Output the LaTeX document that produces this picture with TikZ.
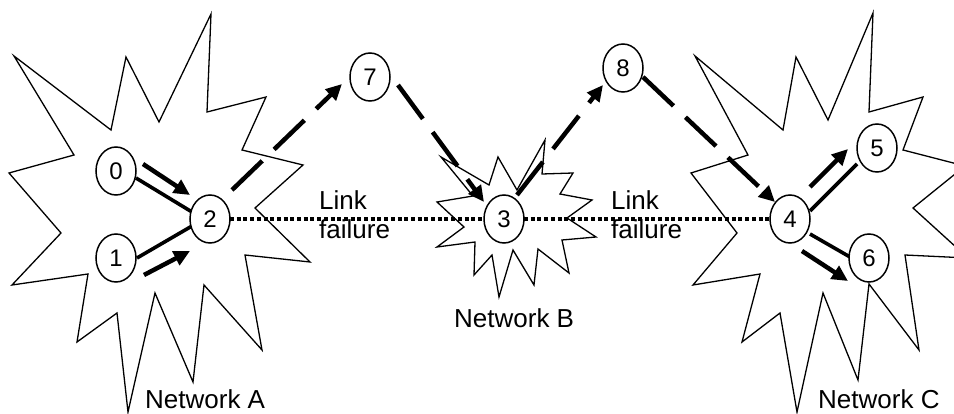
\documentclass[tikz,border=0pt]{standalone}
\usepackage{fontspec}
\setmainfont{Liberation Sans}
\usetikzlibrary{shapes.geometric,arrows.meta,calc}

\tikzset{
  burst/.style={draw, line width=1.3pt, line join=miter, miter limit=20},
  netnode/.style={ellipse, draw, line width=1.5pt, fill=white,
    minimum width=40pt, minimum height=48pt, inner sep=0pt,
    font=\fontsize{24}{24}\selectfont},
  link/.style={line width=3.6pt},
  flow/.style={line width=4.5pt, -{Triangle[length=16pt,width=15pt]}},
  reroute/.style={line width=4.5pt, dash pattern=on 42pt off 16.5pt,
    -{Triangle[length=16pt,width=15pt]}},
  broken/.style={line width=4.5pt, dash pattern=on 4pt off 2.7pt},
  lbl/.style={font=\fontsize{26}{29}\selectfont, inner sep=0pt}
}

\begin{document}
\begin{tikzpicture}[x=1pt, y=-1pt]
  \useasboundingbox (0,0) rectangle (954,414);
  \fill[white] (0,0) rectangle (954,414);

  % network clouds
  \draw[burst] (211,14) -- (207,112) -- (266,97) -- (242,150) -- (303,165)
    -- (255,208) -- (310,262) -- (245,255) -- (262,350) -- (204,285)
    -- (193,382) -- (155,293) -- (128,412) -- (117,313) -- (77,342)
    -- (88,274) -- (12,285) -- (61,233) -- (9,173) -- (74,155)
    -- (14,56) -- (111,130) -- (126,57) -- (159,122) -- cycle;
  \draw[burst] (545,140) -- (542,174) -- (573,173) -- (560,194) -- (592,200)
    -- (567,218) -- (596,237) -- (562,240) -- (569,273) -- (538,249)
    -- (534,285) -- (513,250) -- (499,297) -- (492,255) -- (474,275)
    -- (475,242) -- (437,247) -- (464,227) -- (437,202) -- (473,196)
    -- (441,157) -- (489,185) -- (498,157) -- (517,190) -- cycle;
  \draw[burst] (873,13) -- (869,112) -- (923,97) -- (903,150) -- (965,166)
    -- (913,208) -- (968,258) -- (905,255) -- (919,350) -- (869,284)
    -- (858,380) -- (823,293) -- (797,412) -- (780,313) -- (742,342)
    -- (760,274) -- (693,285) -- (737,233) -- (691,173) -- (748,155)
    -- (695,56) -- (783,130) -- (796,57) -- (828,120) -- cycle;

  % node centres
  \coordinate (c0) at (116,171);
  \coordinate (c1) at (116,258);
  \coordinate (c2) at (210,219);
  \coordinate (c3) at (504,219);
  \coordinate (c4) at (790,219);
  \coordinate (c5) at (877,148);
  \coordinate (c6) at (869,258);
  \coordinate (c7) at (370,77);
  \coordinate (c8) at (623,68);

  % failed links
  \draw[broken] ($(c2)+(20,0)$) -- ($(c3)+(-20,0)$);
  \draw[broken] ($(c3)+(20,0)$) -- ($(c4)+(-20,0)$);

  % links inside the networks
  \draw[link] ($(c0)+(20,7)$) -- ($(c2)+(-18,-7)$);
  \draw[link] ($(c1)+(21,0)$) -- ($(c2)+(-18,7)$);
  \draw[link] ($(c4)+(20,-8)$) -- ($(c5)+(-20,16)$);
  \draw[link] ($(c4)+(20,15)$) -- ($(c6)+(-19,-1)$);

  % traffic direction
  \draw[flow] ($(c0)+(27,-7)$) -- ($(c2)+(-20,-24)$);
  \draw[flow] ($(c1)+(28,17)$) -- ($(c2)+(-20,32)$);
  \draw[flow] ($(c4)+(20,-32)$) -- ($(c5)+(-29,1)$);
  \draw[flow] ($(c4)+(12,32)$) -- ($(c6)+(-21,23)$);

  % detour through relay nodes 7 and 8
  \draw[reroute] ($(c2)+(22,-29)$) -- ($(c7)+(-28,7)$);
  \draw[reroute] ($(c7)+(28,8)$) -- ($(c3)+(-20,-17)$);
  \draw[reroute] ($(c3)+(13,-24)$) -- ($(c8)+(-20,17)$);
  \draw[reroute] ($(c8)+(20,9)$) -- ($(c4)+(-15,-17)$);

  \node[netnode] (n0) at (c0) {0};
  \node[netnode] (n1) at (c1) {1};
  \node[netnode] (n2) at (c2) {2};
  \node[netnode] (n3) at (c3) {3};
  \node[netnode] (n4) at (c4) {4};
  \node[netnode] (n5) at (c5) {5};
  \node[netnode] (n6) at (c6) {6};
  \node[netnode] (n7) at (c7) {7};
  \node[netnode] (n8) at (c8) {8};

  % labels
  \node[lbl, anchor=base west] (lfa1) at (319,210) {Link};
  \node[lbl, anchor=base west] (lfa2) at (319,239) {failure};
  \node[lbl, anchor=base west] (lfb1) at (611,210) {Link};
  \node[lbl, anchor=base west] (lfb2) at (611,239) {failure};
  \node[lbl, anchor=base west] (neta) at (145,408) {Network A};
  \node[lbl, anchor=base west] (netb) at (454,328) {Network B};
  \node[lbl, anchor=base west] (netc) at (818,408) {Network C};
\end{tikzpicture}
\end{document}
